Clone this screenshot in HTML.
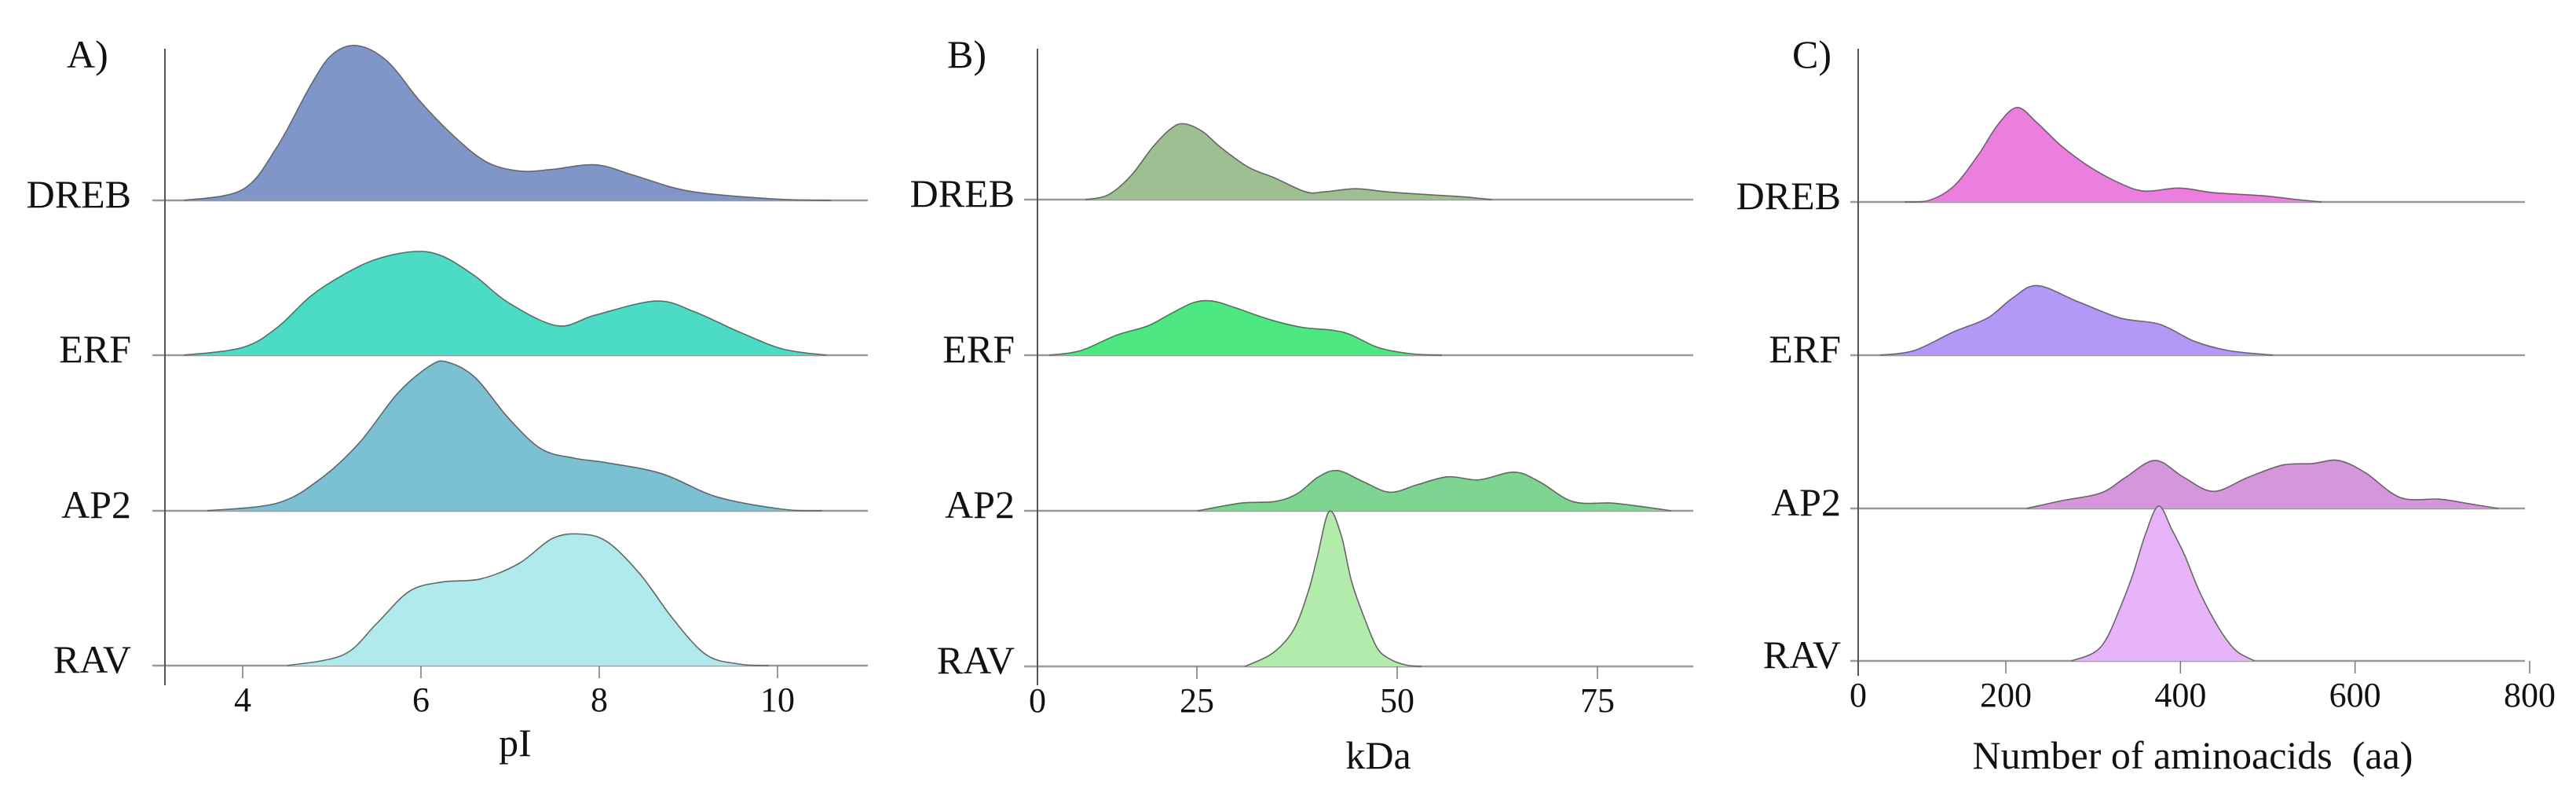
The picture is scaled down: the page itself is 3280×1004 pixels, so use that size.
<!DOCTYPE html>
<html><head><meta charset="utf-8"><style>
html,body{margin:0;padding:0;background:#fff;}
svg{display:block;}
text{font-family:"Liberation Serif","DejaVu Serif",serif;fill:#111;}
</style></head><body>
<svg id="chart" width="3280" height="1004" viewBox="0 0 3280 1004" xmlns="http://www.w3.org/2000/svg"></svg>
<script>
// ---- data ----
const families = ["DREB","ERF","AP2","RAV"];
// Panel A: pI
const aTicks = [4,6,8,10];
const aDrebX = [3.34,4.0,4.39,4.76,5.0,5.28,5.62,5.99,6.36,6.73,7.10,7.47,7.96,8.40,9.01,9.94,10.6];
const aDrebY = [0,.07,.35,.74,.94,1,.90,.64,.42,.25,.19,.20,.23,.16,.06,.01,0];
const aErfX = [3.34,4.0,4.39,4.76,5.13,5.50,5.93,6.24,6.61,6.98,7.53,7.96,8.64,9.07,9.57,10.06,10.55];
const aErfY = [0,.05,.18,.38,.52,.62,.67,.64,.51,.34,.19,.26,.35,.28,.15,.04,0];
const aAp2X = [3.6,4.39,4.88,5.31,5.74,6.11,6.30,6.61,6.98,7.35,7.72,8.09,8.70,9.32,10.06,10.5];
const aAp2Y = [0,.05,.21,.44,.76,.94,.96,.86,.60,.40,.34,.31,.24,.09,.01,0];
const aRavX = [4.5,5.13,5.50,5.87,6.24,6.67,7.10,7.47,7.78,8.09,8.46,8.83,9.20,9.57,9.9];
const aRavY = [0,.07,.27,.48,.54,.56,.66,.82,.85,.80,.59,.30,.07,.01,0];
// Panel B: kDa
const bTicks = [25,50,75];
const bDrebX = [11.1,13.9,16.7,19.5,21.8,23.4,25.7,27.9,31.4,34.7,38.6,40.9,44.8,48.8,54.4,57.7,61.8];
const bDrebY = [0,.03,.15,.34,.46,.49,.44,.34,.21,.14,.05,.05,.07,.05,.03,.02,0];
const bErfX = [6.6,10.5,15.0,18.9,21.8,24.6,26.9,29.6,34.1,38.1,42.1,44.3,47.6,51.6,55.6];
const bErfY = [0,.03,.13,.19,.27,.34,.35,.31,.23,.18,.16,.13,.05,.01,0];
const bAp2X = [25.1,30.6,34.7,37.5,40.2,42.6,45.7,49.1,52.6,56.4,60.2,64.6,67.7,71.9,76.7,80.1,84.2];
const bAp2Y = [0,.05,.06,.11,.22,.26,.19,.12,.17,.22,.20,.25,.19,.06,.05,.03,0];
const bRavX = [31,34,36,37.5,39,40,41.5,43,44.3,46,47.5,49,51,53];
const bRavY = [0,.07,.16,.28,.5,.7,1,.85,.55,.3,.12,.05,.01,0];
// Panel C: number of amino acids
const cTicks = [200,400,600,800];
const cDrebX = [84,112,140,168,191,213,236,264,298,331,359,399,438,494,534,562];
const cDrebY = [0,.01,.10,.30,.50,.61,.51,.36,.22,.12,.07,.09,.06,.04,.015,0];
const cErfX = [56,95,140,179,208,236,281,331,376,416,455,506];
const cErfY = [0,.03,.15,.24,.37,.45,.35,.24,.20,.09,.03,0];
const cAp2X = [224,264,309,337,371,404,438,477,517,551,581,612,652,697,731,764];
const cAp2Y = [0,.05,.10,.20,.31,.20,.11,.20,.28,.29,.31,.23,.07,.06,.03,0];
const cRavX = [275,300,315,330,345,360,375,390,405,420,435,450,465,485];
const cRavY = [0,.05,.14,.33,.55,.82,1,.85,.68,.47,.30,.16,.06,0];

const panels = [
 {id:"a",letter:"A)",title:"pI",v0:4,x0:309,v1:10,x1:990,axisX:210,zeroLabel:null,ticks:aTicks,
  lineL:194,lineR:1105,labelR:167,baselines:[255,452,650,847],axisBot:872,titleX:656,titleY:962,letterX:85,
  colors:["#8196c8","#4cdcc6","#7bc0d3","#b0eaec"],
  series:[[aDrebX,aDrebY],[aErfX,aErfY],[aAp2X,aAp2Y],[aRavX,aRavY]]},
 {id:"b",letter:"B)",title:"kDa",v0:25,x0:1524,v1:75,x1:2034,axisX:1321,zeroLabel:"0",ticks:bTicks,
  lineL:1304,lineR:2156,labelR:1292,baselines:[254,452,650,848],axisBot:872,titleX:1755,titleY:978,letterX:1206,
  colors:["#9dbf92","#4de882","#7ed591","#b3ebad"],
  series:[[bDrebX,bDrebY],[bErfX,bErfY],[bAp2X,bAp2Y],[bRavX,bRavY]]},
 {id:"c",letter:"C)",title:"Number of aminoacids  (aa)",v0:200,x0:2554,v1:800,x1:3221,axisX:2366,zeroLabel:"0",ticks:cTicks,
  lineL:2356,lineR:3215,labelR:2344,baselines:[257,452,647,841],axisBot:860,titleX:2792,titleY:978,letterX:2282,
  colors:["#ec7ee0","#b498f8","#d596dc","#e7b4fa"],
  series:[[cDrebX,cDrebY],[cErfX,cErfY],[cAp2X,cAp2Y],[cRavX,cRavY]]}
];
const RIDGE_H = 197;
const FONT = '"Liberation Serif", "DejaVu Serif", serif';
const NS = "http://www.w3.org/2000/svg";
const svg = document.getElementById("chart");
function mk(tag, attrs, parent){const e=document.createElementNS(NS,tag);for(const k in attrs)e.setAttribute(k,attrs[k]);(parent||svg).appendChild(e);return e;}
function smooth(pts){
  let d="M"+pts[0][0].toFixed(1)+","+pts[0][1].toFixed(1);
  for(let i=0;i<pts.length-1;i++){
    const p0=pts[Math.max(0,i-1)],p1=pts[i],p2=pts[i+1],p3=pts[Math.min(pts.length-1,i+2)];
    const c1=[p1[0]+(p2[0]-p0[0])/6,p1[1]+(p2[1]-p0[1])/6];
    const c2=[p2[0]-(p3[0]-p1[0])/6,p2[1]-(p3[1]-p1[1])/6];
    d+="C"+c1[0].toFixed(1)+","+c1[1].toFixed(1)+" "+c2[0].toFixed(1)+","+c2[1].toFixed(1)+" "+p2[0].toFixed(1)+","+p2[1].toFixed(1);
  }
  return d;
}
panels.forEach(p=>{
  const xs = v => p.x0 + (v-p.v0)*(p.x1-p.x0)/(p.v1-p.v0);
  const g = mk("g",{});
  
  
  p.series.forEach((s,i)=>{
    const base=p.baselines[i];
    const ys = v => base - v*RIDGE_H;
    const pts = s[0].map((x,k)=>[xs(x),ys(s[1][k])]);
    const line = mk("line",{x1:p.lineL,x2:p.lineR,y1:base,y2:base,stroke:"#9a9a9a","stroke-width":2.5},g);
    
    
    const d = smooth(pts);
    const area = mk("path",{d:d+"L"+pts[pts.length-1][0].toFixed(1)+","+base+"L"+pts[0][0].toFixed(1)+","+base+"Z",fill:p.colors[i],stroke:"none"},g);
    
    
    const outline = mk("path",{d:d,fill:"none",stroke:"#666","stroke-width":1.6},g);
    
    
    const lab = mk("text",{x:p.labelR,y:base+9,"text-anchor":"end","font-size":50,"font-family":FONT},g);
    lab.textContent=families[i];
    
    
  });
  const ax = mk("line",{x1:p.axisX,x2:p.axisX,y1:62,y2:p.axisBot,stroke:"#555","stroke-width":2},g);
  
  
  const bl = p.baselines[3];
  p.ticks.forEach(t=>{
    const x=xs(t);
    const tk=mk("line",{x1:x,x2:x,y1:bl,y2:bl+16,stroke:"#777","stroke-width":1.5},g);
    
    
    const tl=mk("text",{x:x,y:bl+58,"text-anchor":"middle","font-size":44,"font-family":FONT},g);
    tl.textContent=String(t);
    
    
  });
  if(p.zeroLabel){
    const zl=mk("text",{x:p.axisX,y:bl+58,"text-anchor":"middle","font-size":44,"font-family":FONT},g);
    zl.textContent=p.zeroLabel;
    
    
  }
  const tt=mk("text",{x:p.titleX,y:p.titleY,"text-anchor":"middle","font-size":50,"font-family":FONT},g);
  tt.style.whiteSpace="pre";
  tt.textContent=p.title;
  
  
  const lt=mk("text",{x:p.letterX,y:86,"font-size":50,"font-family":FONT},g);
  lt.textContent=p.letter;
  
  
});
</script>
</body></html>
